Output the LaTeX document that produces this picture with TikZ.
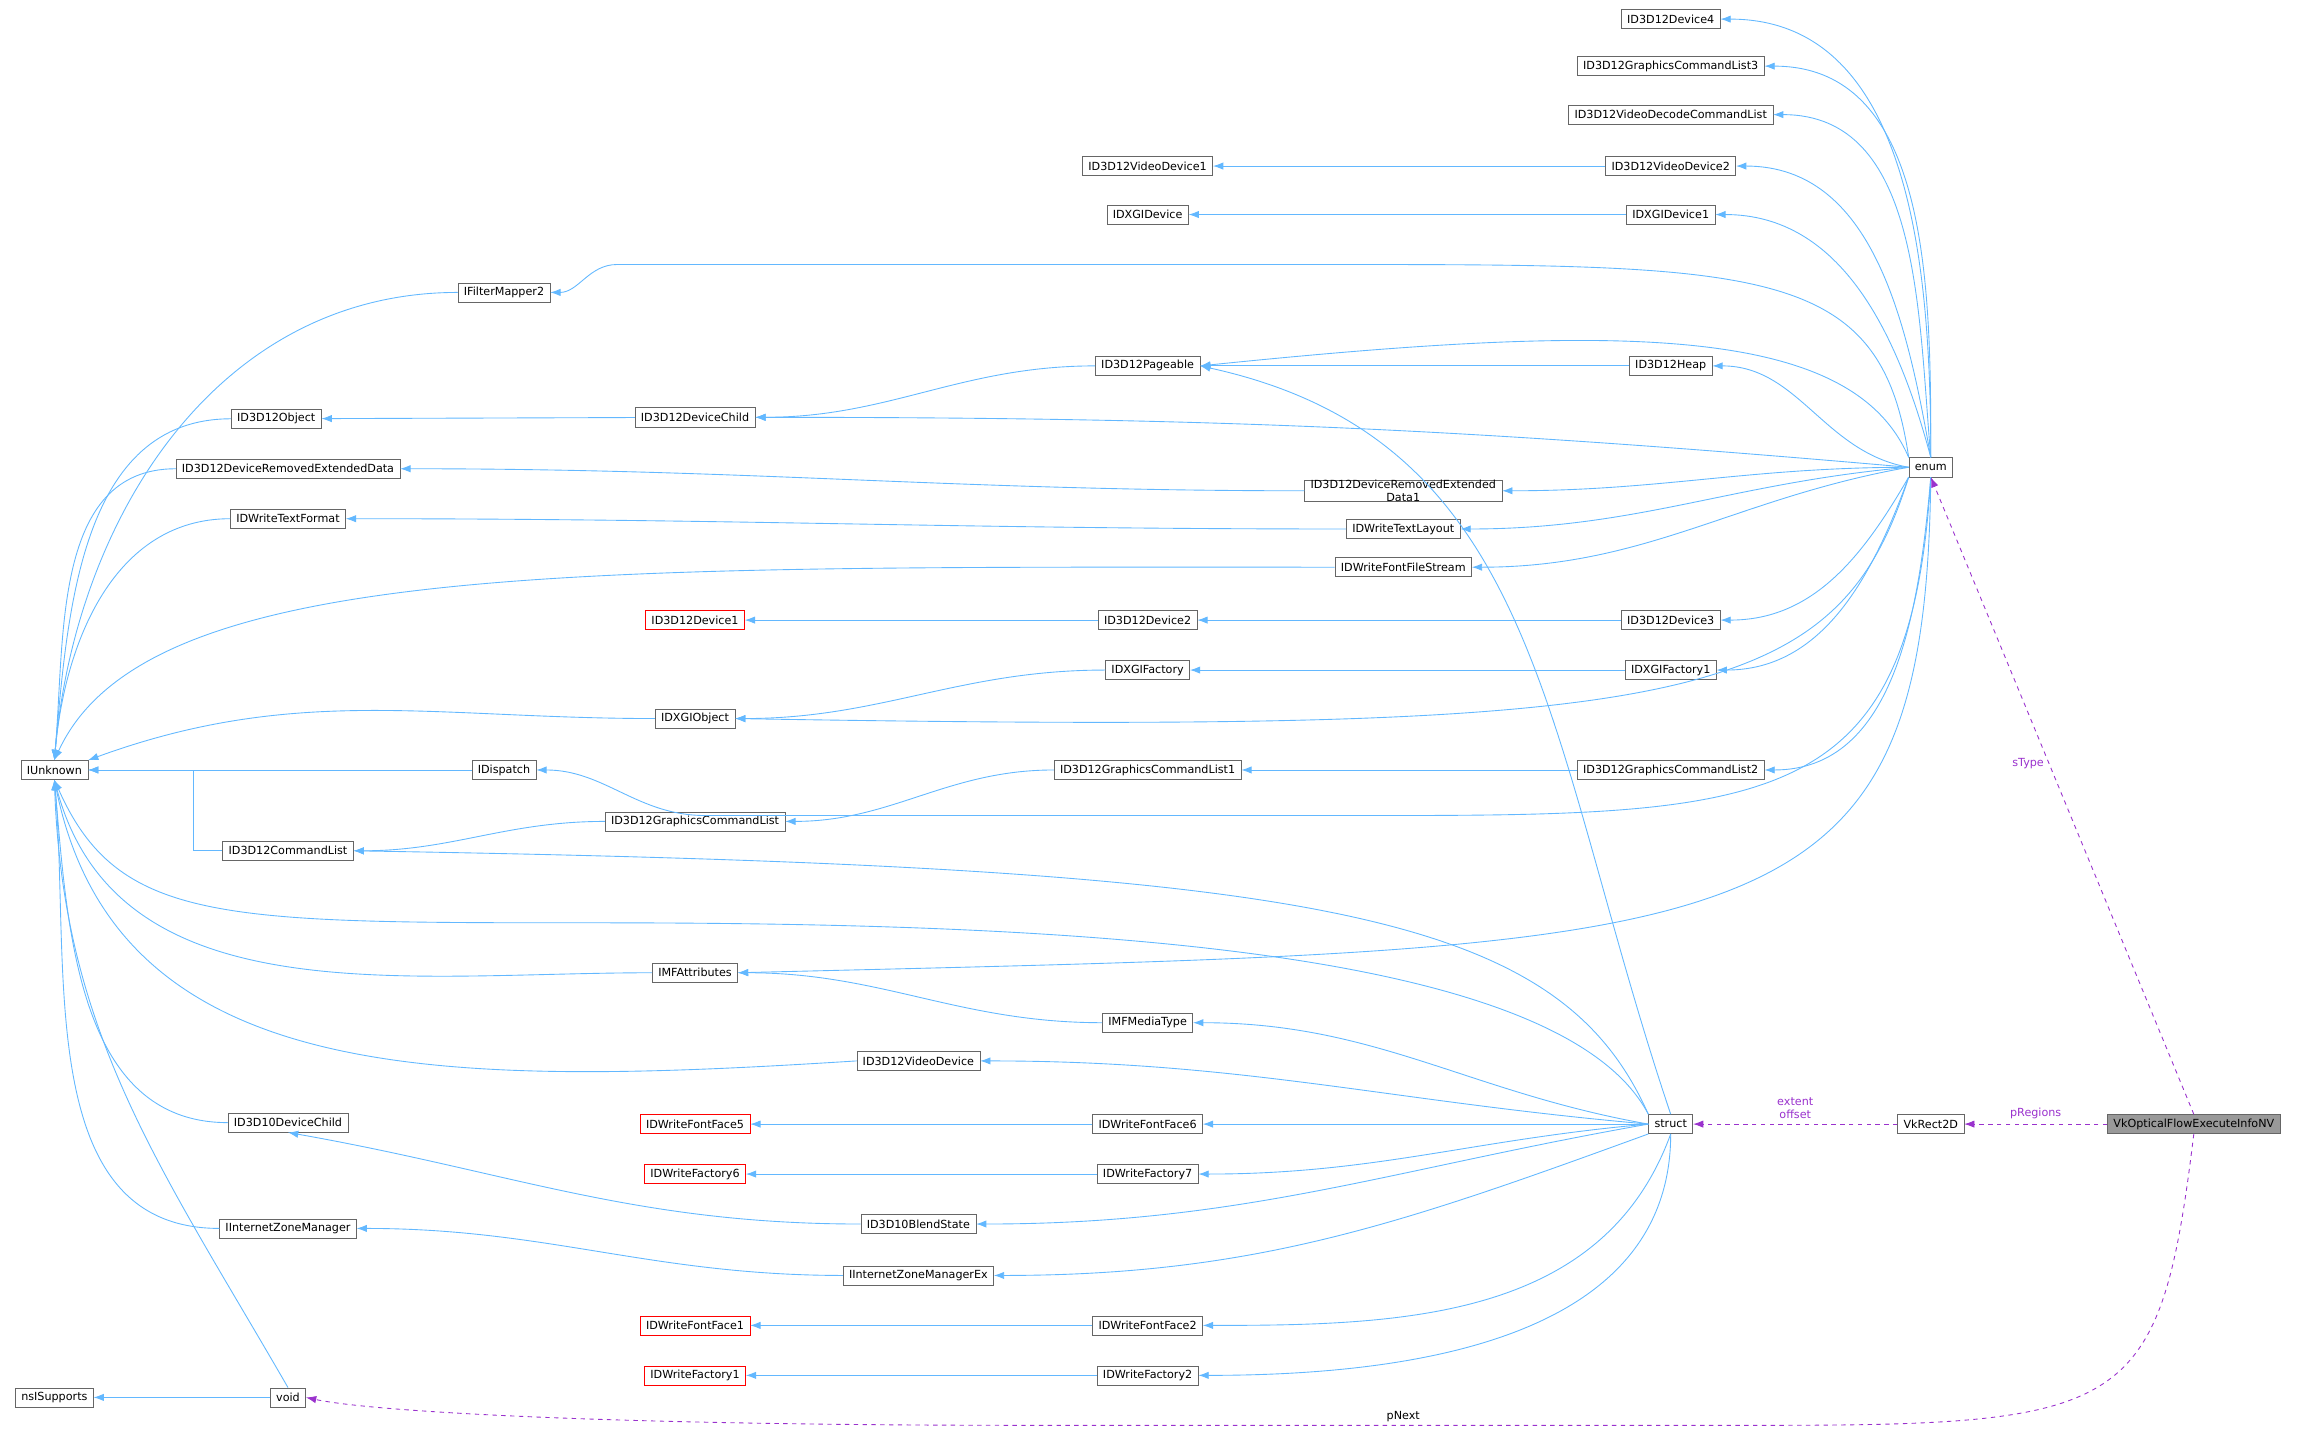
\documentclass[tikz,border=0pt]{standalone}
\usepackage{fontspec}
\setmainfont{DejaVu Sans}
\usetikzlibrary{arrows.meta}
\definecolor{eb}{HTML}{63B8FF}
\definecolor{ep}{HTML}{9A32CD}
\begin{document}
\begin{tikzpicture}[x=1pt,y=-1pt,
 n/.style={draw=black!60,fill=white,font=\fontsize{7.6}{8.6}\selectfont,inner xsep=4pt,inner ysep=0pt,minimum height=13pt,align=center},
 r/.style={n,draw=red},
 e/.style={eb,-{Latex[length=7pt,width=5pt]},line width=0.6pt},
 p/.style={ep,dashed,-{Latex[length=7pt,width=5pt]},line width=0.6pt},
 lb/.style={font=\fontsize{7.6}{8.6}\selectfont,align=center}]
\useasboundingbox (0,0) rectangle (1568,975);
\node[n] (d4) at (1137,13) {ID3D12Device4};
\node[n] (gcl3) at (1137,45) {ID3D12GraphicsCommandList3};
\node[n] (vdcl) at (1137,78) {ID3D12VideoDecodeCommandList};
\node[n] (vd1) at (781,113) {ID3D12VideoDevice1};
\node[n] (vd2) at (1137,113) {ID3D12VideoDevice2};
\node[n] (dxd) at (781,146) {IDXGIDevice};
\node[n] (dxd1) at (1137,146) {IDXGIDevice1};
\node[n] (fm2) at (343,199) {IFilterMapper2};
\node[n] (pg) at (781,249) {ID3D12Pageable};
\node[n] (heap) at (1137,249) {ID3D12Heap};
\node[n] (obj) at (188,285) {ID3D12Object};
\node[n] (dc) at (473,284) {ID3D12DeviceChild};
\node[n] (dred) at (196,319) {ID3D12DeviceRemovedExtendedData};
\node[n] (dred1) at (955,334) {ID3D12DeviceRemovedExtended\\Data1};
\node[n] (enum) at (1314,318) {enum};
\node[n] (tf) at (196,353) {IDWriteTextFormat};
\node[n] (tl) at (955,360) {IDWriteTextLayout};
\node[n] (ffs) at (955,386) {IDWriteFontFileStream};
\node[r] (dev1) at (473,422) {ID3D12Device1};
\node[n] (dev2) at (781,422) {ID3D12Device2};
\node[n] (dev3) at (1137,422) {ID3D12Device3};
\node[n] (fac) at (781,456) {IDXGIFactory};
\node[n] (fac1) at (1137,456) {IDXGIFactory1};
\node[n] (dxo) at (473,489) {IDXGIObject};
\node[n] (iu) at (37,524) {IUnknown};
\node[n] (disp) at (343,524) {IDispatch};
\node[n] (gcl1) at (781,524) {ID3D12GraphicsCommandList1};
\node[n] (gcl2) at (1137,524) {ID3D12GraphicsCommandList2};
\node[n] (gcl) at (473,559) {ID3D12GraphicsCommandList};
\node[n] (cl) at (196,579) {ID3D12CommandList};
\node[n] (mfa) at (473,662) {IMFAttributes};
\node[n] (mft) at (781,696) {IMFMediaType};
\node[n] (vd) at (625,722) {ID3D12VideoDevice};
\node[n] (d10) at (196,764) {ID3D10DeviceChild};
\node[r] (ff5) at (473,765) {IDWriteFontFace5};
\node[n] (ff6) at (781,765) {IDWriteFontFace6};
\node[n] (st) at (1137,765) {struct};
\node[n] (vk) at (1314,765) {VkRect2D};
\node[n,fill=black!40] (of) at (1493,765) {VkOpticalFlowExecuteInfoNV};
\node[r] (wf6) at (473,799) {IDWriteFactory6};
\node[n] (wf7) at (781,799) {IDWriteFactory7};
\node[n] (bs) at (625,833) {ID3D10BlendState};
\node[n] (izm) at (196,836) {IInternetZoneManager};
\node[n] (izmx) at (625,868) {IInternetZoneManagerEx};
\node[r] (ff1) at (473,902) {IDWriteFontFace1};
\node[n] (ff2) at (781,902) {IDWriteFontFace2};
\node[r] (wf1) at (473,936) {IDWriteFactory1};
\node[n] (wf2) at (781,936) {IDWriteFactory2};
\node[n] (ns) at (37,951) {nsISupports};
\node[n] (void) at (196,951) {void};
% IUnknown children
\draw[e] (fm2.west) to[out=180,in=85] (iu.north);
\draw[e] (obj.west) to[out=180,in=85] (iu.north);
\draw[e] (dred.west) to[out=180,in=85] (iu.north);
\draw[e] (tf.west) to[out=180,in=85] (iu.north);
\draw[e] (ffs.west) .. controls (400,386) and (100,380) .. (iu.north);
\draw[e] (dxo.west) to[out=180,in=20] (iu.north east);
\draw[e] (disp) -- (iu);
\draw[e] (cl.west) -- ++(-20,0) |- (iu.east);
\draw[e] (st.north west) .. controls (1060,640) and (700,628) .. (400,628) .. controls (150,628) and (80,628) .. (iu.south);
\draw[e] (mfa.west) to[out=180,in=-75] (iu.south);
\draw[e] (vd.west) .. controls (300,740) and (80,740) .. (iu.south);
\draw[e] (d10.west) to[out=180,in=-85] (iu.south);
\draw[e] (izm.west) to[out=180,in=-85] (iu.south);
\draw[e] (void.north) to[out=120,in=-88] (iu.south);
\draw[e] (void) -- (ns);
% middle chains
\draw[e] (dc) -- (obj);
\draw[e] (pg.west) to[out=180,in=0] (dc.east);
\draw[e] (heap) -- (pg);
\draw[e] (vd2) -- (vd1);
\draw[e] (dxd1) -- (dxd);
\draw[e] (dred1.west) to[out=180,in=0] (dred.east);
\draw[e] (tl.west) to[out=180,in=0] (tf.east);
\draw[e] (dev2) -- (dev1);
\draw[e] (dev3) -- (dev2);
\draw[e] (fac1) -- (fac);
\draw[e] (fac.west) to[out=180,in=0] (dxo.east);
\draw[e] (gcl2) -- (gcl1);
\draw[e] (gcl1.west) to[out=180,in=0] (gcl.east);
\draw[e] (gcl.west) to[out=180,in=0] (cl.east);
\draw[e] (mft.west) to[out=180,in=0] (mfa.east);
\draw[e] (ff6) -- (ff5);
\draw[e] (wf7) -- (wf6);
\draw[e] (bs.west) to[out=180,in=-10] (d10.south);
\draw[e] (izmx.west) to[out=180,in=0] (izm.east);
\draw[e] (ff2) -- (ff1);
\draw[e] (wf2) -- (wf1);
% enum edges
\draw[e] (enum.north) to[out=90,in=0] (d4.east);
\draw[e] (enum.north) to[out=90,in=0] (gcl3.east);
\draw[e] (enum.north) to[out=95,in=0] (vdcl.east);
\draw[e] (enum.north) to[out=100,in=0] (vd2.east);
\draw[e] (enum.north) to[out=105,in=0] (dxd1.east);
\draw[e] (enum.north west) .. controls (1280,180) and (1200,180) .. (900,180) -- (420,180) to[out=180,in=0] (fm2.east);
\draw[e] (enum.north west) .. controls (1260,220) and (1100,220) .. (pg.east);
\draw[e] (enum.west) to[out=170,in=0] (heap.east);
\draw[e] (enum.west) to[out=175,in=0] (dc.east);
\draw[e] (enum.west) to[out=180,in=0] (dred1.east);
\draw[e] (enum.west) to[out=185,in=0] (tl.east);
\draw[e] (enum.west) to[out=190,in=0] (ffs.east);
\draw[e] (enum.south west) to[out=240,in=0] (dev3.east);
\draw[e] (enum.south west) to[out=250,in=0] (fac1.east);
\draw[e] (enum.south west) .. controls (1250,480) and (1150,500) .. (dxo.east);
\draw[e] (enum.south) to[out=265,in=0] (gcl2.east);
\draw[e] (enum.south) .. controls (1300,560) and (1200,555) .. (900,555) -- (480,555) to[out=180,in=0] (disp.east);
\draw[e] (enum.south) .. controls (1310,650) and (1200,645) .. (mfa.east);
% struct edges
\draw[e] (st.north) .. controls (1050,500) and (1050,300) .. (pg.east);
\draw[e] (st.north west) .. controls (1060,620) and (900,590) .. (cl.east);
\draw[e] (st.west) to[out=170,in=0] (mft.east);
\draw[e] (st.west) to[out=175,in=0] (vd.east);
\draw[e] (st) -- (ff6);
\draw[e] (st.west) to[out=185,in=0] (wf7.east);
\draw[e] (st.west) to[out=190,in=0] (bs.east);
\draw[e] (st.south west) to[out=200,in=0] (izmx.east);
\draw[e] (st.south) to[out=250,in=0] (ff2.east);
\draw[e] (st.south) to[out=270,in=0] (wf2.east);
% purple
\draw[p] (vk) -- node[lb,above] {extent\\offset} (st);
\draw[p] (of) -- node[lb,above] {pRegions} (vk);
\draw[p] (of.north) -- node[lb,pos=0.55,left] {sType} (enum.south);
\draw[p] (of.south) .. controls (1470,960) and (1450,970) .. (1200,970) -- (700,970) .. controls (400,970) and (250,960) .. (void.east);
\node[lb] at (955,964) {pNext};
\end{tikzpicture}
\end{document}
